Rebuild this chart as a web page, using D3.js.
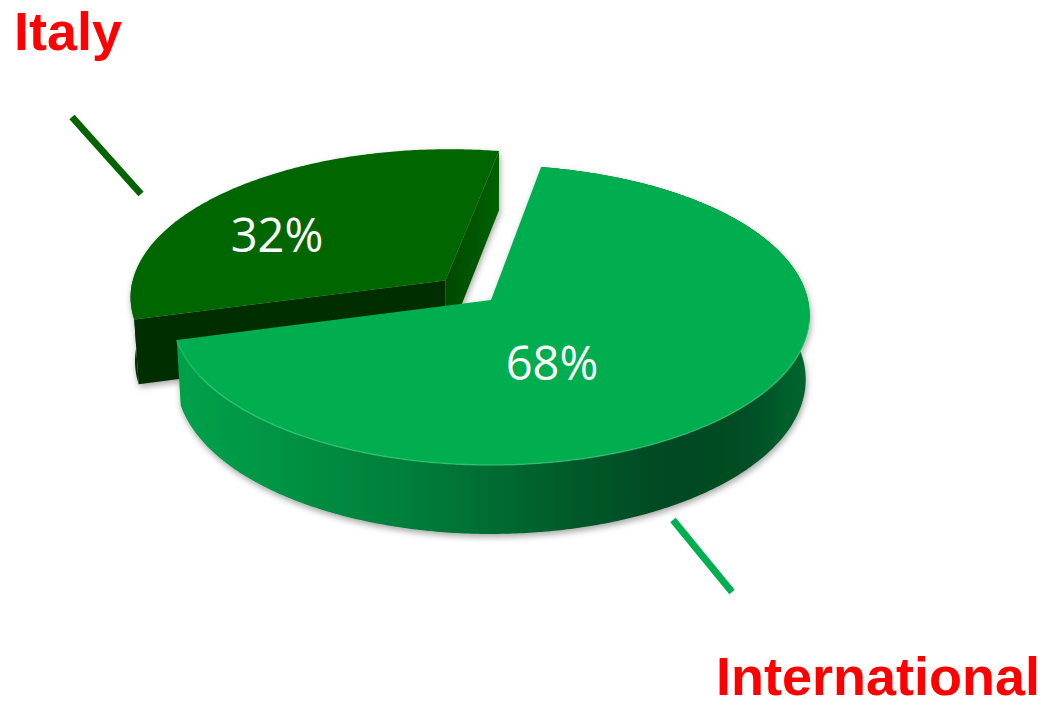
<!DOCTYPE html>
<html>
<head>
<meta charset="utf-8">
<script src="https://cdn.jsdelivr.net/npm/d3@7"></script>
<style>
  html, body { margin: 0; padding: 0; background: #ffffff; }
  svg { display: block; }
</style>
</head>
<body>
<svg id="chart" width="1045" height="708"></svg>
<script>
// Revenue split by market
const categories = ["Italy", "International"];
const shares = [32, 68];
const shareLabels = ["32%", "68%"];
const topColors = ["#006600", "#00ad50"];
const leaderColors = ["#006400", "#00b050"];
const nameColor = "#ff0000";

const W = 1045, H = 708;
const svg = d3.select("#chart");
const defs = svg.append("defs");

// Perspective camera looking down on the disc (unit radius)
const cam = { cx: 491, cy: 300, F: 2774, D: 8.75, phi: 27.9 * Math.PI / 180, thick: 0.2316 };
const sinP = Math.sin(cam.phi), cosP = Math.cos(cam.phi);
function project(X, Z, Y) {
  const w = cam.D + Z * cosP - Y * sinP;
  const v = Z * sinP + Y * cosP;
  return [cam.cx + cam.F * X / w, cam.cy - cam.F * v / w];
}

const startAngle = 254.8 * Math.PI / 180;
const pie = d3.pie().sort(null).startAngle(startAngle).endAngle(startAngle + 2 * Math.PI);
const arcs = pie(shares).map((d, i) => ({ ...d, i }));

// Italy is pulled out of the disc along its bisector
const explode = [0.197, 0];
arcs.forEach(a => {
  const mid = (a.startAngle + a.endAngle) / 2;
  a.ox = explode[a.i] * Math.sin(mid);
  a.oz = explode[a.i] * Math.cos(mid);
});

function rim(a, ang, Y) {
  return project(a.ox + Math.sin(ang), a.oz + Math.cos(ang), Y);
}
function centre(a, Y) { return project(a.ox, a.oz, Y); }
function sampleAngles(a0, a1) {
  const n = Math.max(2, Math.ceil(Math.abs(a1 - a0) / 0.01));
  return d3.range(n + 1).map(k => a0 + (a1 - a0) * k / n);
}
const line = d3.line();

function topFace(a) {
  const pts = [centre(a, 0)].concat(sampleAngles(a.startAngle, a.endAngle).map(t => rim(a, t, 0)));
  return line(pts) + "Z";
}
function sideFace(a, a0, a1) {
  const angs = sampleAngles(a0, a1);
  const top = angs.map(t => rim(a, t, 0));
  const bot = angs.slice().reverse().map(t => rim(a, t, -cam.thick));
  return line(top.concat(bot)) + "Z";
}
function radialFace(a, ang) {
  return line([centre(a, 0), rim(a, ang, 0), rim(a, ang, -cam.thick), centre(a, -cam.thick)]) + "Z";
}

// soft shadow round the pie
const f = defs.append("filter").attr("id", "shadow").attr("x", "-10%").attr("y", "-10%").attr("width", "120%").attr("height", "130%");
f.append("feDropShadow").attr("dx", 1).attr("dy", 3).attr("stdDeviation", 3)
  .attr("flood-color", "#000").attr("flood-opacity", 0.35);

// side shading of the large slice, lit from the left
const main = arcs[1], italy = arcs[0];
const xl = rim(main, main.endAngle, 0)[0] - 2;
const xr = cam.cx + cam.F / cam.D + 5;
const g1 = defs.append("linearGradient").attr("id", "sideMain")
  .attr("gradientUnits", "userSpaceOnUse").attr("x1", xl).attr("x2", xr).attr("y1", 0).attr("y2", 0);
[[0, "#00a14b"], [0.12, "#009846"], [0.4, "#007a38"], [0.62, "#005a2a"], [0.78, "#004822"], [0.9, "#004f25"], [1, "#006a30"]]
  .forEach(([o, c]) => g1.append("stop").attr("offset", o).attr("stop-color", c));

const g2 = defs.append("linearGradient").attr("id", "sideItaly")
  .attr("x1", 0).attr("x2", 1).attr("y1", 0).attr("y2", 0);
[[0, "#004a00"], [1, "#006000"]].forEach(([o, c]) => g2.append("stop").attr("offset", o).attr("stop-color", c));

const pieG = svg.append("g").attr("filter", "url(#shadow)");

// Italy slice (drawn first, sits behind)
const gi = pieG.append("g");
gi.append("path").attr("d", sideFace(italy, italy.startAngle, 1.5 * Math.PI)).attr("fill", "#003000");
gi.append("path").attr("d", radialFace(italy, italy.startAngle)).attr("fill", "#002f00");
gi.append("path").attr("d", radialFace(italy, italy.endAngle)).attr("fill", "url(#sideItaly)");
gi.append("path").attr("d", topFace(italy)).attr("fill", topColors[0]);

// International slice
const gm = pieG.append("g");
gm.append("path").attr("d", sideFace(main, main.startAngle, main.endAngle)).attr("fill", "url(#sideMain)");
gm.append("path").attr("d", topFace(main)).attr("fill", topColors[1]);
// faint highlight on the front rim
const frontFrom = 2 * Math.PI + Math.PI * 0.55;
gm.append("path")
  .attr("d", line(sampleAngles(frontFrom, main.endAngle).map(t => rim(main, t, 0))))
  .attr("fill", "none").attr("stroke", "#3fd27f").attr("stroke-width", 1.5).attr("opacity", 0.55);

// value labels on the top faces
const labelPos = [[277, 252], [552, 380]];
svg.append("g").selectAll("text").data(arcs).join("text")
  .attr("x", d => labelPos[d.i][0]).attr("y", d => labelPos[d.i][1])
  .attr("text-anchor", "middle")
  .attr("font-family", "'Open Sans', 'DejaVu Sans', sans-serif")
  .attr("font-size", 47).attr("fill", "#ffffff")
  .text(d => shareLabels[d.i]);

// leader lines
const leaders = [[[72, 117], [141, 194]], [[673, 520], [732, 592]]];
svg.append("g").selectAll("line").data(arcs).join("line")
  .attr("x1", d => leaders[d.i][0][0]).attr("y1", d => leaders[d.i][0][1])
  .attr("x2", d => leaders[d.i][1][0]).attr("y2", d => leaders[d.i][1][1])
  .attr("stroke", d => leaderColors[d.i]).attr("stroke-width", 7);

// category names
const namePos = [[14, 50, "start"], [1040, 695, "end"]];
svg.append("g").selectAll("text").data(arcs).join("text")
  .attr("x", d => namePos[d.i][0]).attr("y", d => namePos[d.i][1])
  .attr("text-anchor", d => namePos[d.i][2])
  .attr("font-family", "'Liberation Sans', Arial, sans-serif")
  .attr("font-weight", "bold").attr("font-size", 54).attr("fill", nameColor)
  .text(d => categories[d.i]);
</script>
</body>
</html>
